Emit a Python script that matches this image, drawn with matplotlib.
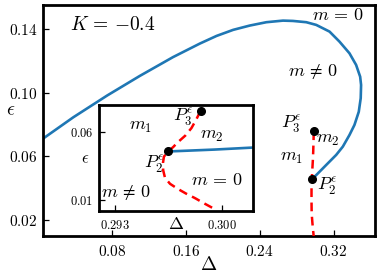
import matplotlib
matplotlib.use('Agg')
import matplotlib.pyplot as plt

plt.rcParams['mathtext.fontset'] = 'cm'
plt.rcParams['font.family'] = ['serif']
plt.rcParams['font.serif'] = ['cmr10', 'DejaVu Serif']

# ---- data ----
blue_delta = [0.0030, 0.0378, 0.0746, 0.1100, 0.1460, 0.1751, 0.1932, 0.2112, 0.2292,
              0.2472, 0.2652, 0.2760, 0.2905, 0.3013, 0.3157, 0.3265, 0.3373, 0.3445,
              0.3489, 0.3499, 0.3495, 0.3474, 0.3427, 0.3373, 0.3301, 0.3229, 0.3121,
              0.2995, 0.29647]
blue_eps = [0.0703, 0.0845, 0.0982, 0.1105, 0.1223, 0.1308, 0.1356, 0.1394, 0.1421,
            0.1442, 0.1452, 0.1450, 0.1442, 0.1425, 0.1383, 0.1320, 0.1247, 0.1174,
            0.1100, 0.1048, 0.0965, 0.0880, 0.0797, 0.0734, 0.0661, 0.0609, 0.0546,
            0.0472, 0.0458]

red_delta = [0.2986, 0.2983, 0.2980, 0.2976, 0.2971, 0.2968, 0.29647, 0.29620, 0.29614,
             0.29615, 0.29627, 0.29660, 0.29712, 0.29765, 0.29823, 0.29890, 0.29954]
red_eps = [0.0757, 0.0690, 0.0630, 0.0575, 0.0525, 0.0490, 0.0458, 0.0420, 0.0376,
           0.0320, 0.0264, 0.0220, 0.0182, 0.0148, 0.0115, 0.0072, 0.0033]

P2 = (0.29647, 0.0458)
P3 = (0.2986, 0.0757)

main_xticks = [0.08, 0.16, 0.24, 0.32]
main_xticklabels = ['0.08', '0.16', '0.24', '0.32']
main_yticks = [0.02, 0.06, 0.10, 0.14]
main_yticklabels = ['0.02', '0.06', '0.10', '0.14']
inset_xticks = [0.293, 0.300]
inset_xticklabels = ['0.293', '0.300']
inset_yticks = [0.01, 0.06]
inset_yticklabels = ['0.01', '0.06']

BLUE = '#1f77b4'
RED = '#ff0000'

fig = plt.figure(figsize=(3.82, 2.75), dpi=100)

# ---- main axes ----
ax = fig.add_axes([0.1126, 0.1418, 0.8691, 0.8400])
ax.plot(blue_delta, blue_eps, color=BLUE, lw=1.9, zorder=2)
ax.plot(red_delta, red_eps, color=RED, lw=1.8, dashes=(3.5, 2.2), zorder=3)
ax.plot([P2[0], P3[0]], [P2[1], P3[1]], 'o', color='black', ms=5.5, zorder=4)
ax.set_xlim(0.005, 0.365)
ax.set_ylim(0.01, 0.155)
ax.set_xticks(main_xticks)
ax.set_xticklabels(['$%s$' % s for s in main_xticklabels])
ax.set_yticks(main_yticks)
ax.set_yticklabels(['$%s$' % s for s in main_yticklabels])
ax.tick_params(direction='in', length=4, width=0.9, labelsize=11, pad=4)
ax.tick_params(axis='x', pad=6)
for sp in ax.spines.values():
    sp.set_linewidth(2.0)
ax.set_xlabel(r'$\Delta$', fontsize=14)
ax.xaxis.set_label_coords(0.5, -0.085)
ax.set_ylabel(r'$\epsilon$', fontsize=14, rotation=0, va='center', ha='center')
ax.yaxis.set_label_coords(-0.096, 0.545)

ax.text(0.211, 0.913, r'$K\,=\,{-0.4}$', transform=ax.transAxes, ha='center', va='center', fontsize=14)
ax.text(0.889, 0.957, r'$m\,=\,0$', transform=ax.transAxes, ha='center', va='center', fontsize=13)
ax.text(0.813, 0.710, r'$m\,\neq\, 0$', transform=ax.transAxes, ha='center', va='center', fontsize=13)
ax.text(0.747, 0.485, r'$P_3^\epsilon$', transform=ax.transAxes, ha='center', va='center', fontsize=13)
ax.text(0.858, 0.416, r'$m_2$', transform=ax.transAxes, ha='center', va='center', fontsize=13)
ax.text(0.750, 0.338, r'$m_1$', transform=ax.transAxes, ha='center', va='center', fontsize=13)
ax.text(0.855, 0.216, r'$P_2^\epsilon$', transform=ax.transAxes, ha='center', va='center', fontsize=13)

# ---- inset ----
ins = fig.add_axes([0.2592, 0.2327, 0.4031, 0.3855])
ins.set_facecolor('white')
ins.plot(blue_delta, blue_eps, color=BLUE, lw=1.9, zorder=2)
ins.plot(red_delta, red_eps, color=RED, lw=1.8, dashes=(3.5, 2.2), zorder=3)
ins.plot([P2[0], P3[0]], [P2[1], P3[1]], 'o', color='black', ms=5.5, zorder=4)
ins.set_xlim(0.29195, 0.30203)
ins.set_ylim(0.002, 0.080)
ins.set_xticks(inset_xticks)
ins.set_xticklabels(['$%s$' % s for s in inset_xticklabels])
ins.set_yticks(inset_yticks)
ins.set_yticklabels(['$%s$' % s for s in inset_yticklabels])
ins.tick_params(direction='in', length=4, width=0.9, labelsize=9, pad=4)
ins.tick_params(axis='x', pad=6)
for sp in ins.spines.values():
    sp.set_linewidth(2.0)
ins.set_xlabel(r'$\Delta$', fontsize=13, va='top')
ins.xaxis.set_label_coords(0.5, -0.05)
ins.set_ylabel(r'$\epsilon$', fontsize=12, rotation=0, va='center', ha='center')
ins.yaxis.set_label_coords(-0.09, 0.49)

ins.text(0.273, 0.790, r'$m_1$', transform=ins.transAxes, ha='center', va='center', fontsize=13)
ins.text(0.545, 0.887, r'$P_3^\epsilon$', transform=ins.transAxes, ha='center', va='center', fontsize=13)
ins.text(0.734, 0.700, r'$m_2$', transform=ins.transAxes, ha='center', va='center', fontsize=13)
ins.text(0.357, 0.443, r'$P_2^\epsilon$', transform=ins.transAxes, ha='center', va='center', fontsize=13)
ins.text(0.766, 0.292, r'$m\,=\,0$', transform=ins.transAxes, ha='center', va='center', fontsize=13)
ins.text(0.175, 0.170, r'$m\,\neq\, 0$', transform=ins.transAxes, ha='center', va='center', fontsize=13)

fig.savefig('out.png', dpi=100)
